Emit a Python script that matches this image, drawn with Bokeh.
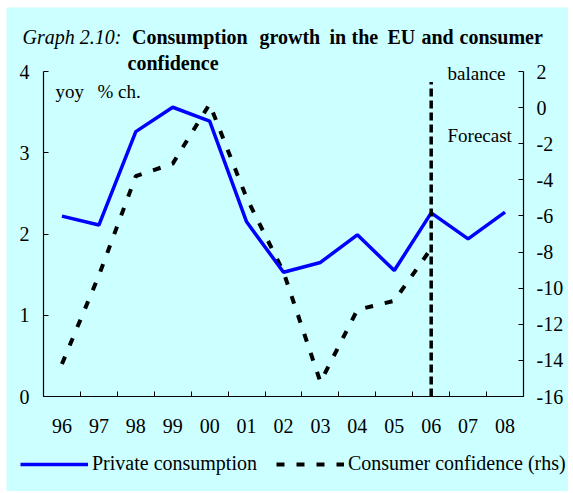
from bokeh.plotting import figure
from bokeh.models import (Range1d, LinearAxis, FixedTicker, Label, Legend, LegendItem)
from bokeh.embed import file_html
from bokeh.resources import INLINE

# ---- data ----
years = ["96", "97", "98", "99", "00", "01", "02", "03", "04", "05", "06", "07", "08"]
private_consumption = [2.22, 2.11, 3.26, 3.56, 3.39, 2.15, 1.53, 1.65, 1.99, 1.55, 2.26, 1.94, 2.27]
confidence_years = ["96", "97", "98", "99", "00", "01", "02", "03", "04", "05", "06"]
consumer_confidence = [-14.2, -9.3, -3.8, -3.1, 0.2, -5.0, -9.1, -15.2, -11.2, -10.7, -7.8]
forecast_year = "06"
forecast_line_top = 3.87
left_ticks = [0, 1, 2, 3, 4]
right_ticks = [-16, -14, -12, -10, -8, -6, -4, -2, 0, 2]

BG = "#ccffff"
FONT = "Liberation Serif"

# ---- layout geometry (pixels) ----
OX, OY = 6, 7            # page offset of the figure
W, H = 562, 484          # figure size; the frame covers the whole figure
AX_L, AX_R = 37, 517     # x of left / right axis inside the figure
AX_T, AX_B = 64, 389     # y of top tick / bottom axis inside the figure
n = len(years)
ppx = (AX_R - AX_L) / n
ppy = (AX_B - AX_T) / (left_ticks[-1] - left_ticks[0])
ppr = (AX_B - AX_T) / (right_ticks[-1] - right_ticks[0])

x_rng = Range1d(-0.5 - AX_L / ppx, n - 0.5 + (W - AX_R) / ppx)
y_rng = Range1d(left_ticks[0] - (H - AX_B) / ppy, left_ticks[-1] + AX_T / ppy)
r_rng = Range1d(right_ticks[0] - (H - AX_B) / ppr, right_ticks[-1] + AX_T / ppr)

p = figure(width=W, height=H, output_backend="svg", toolbar_location=None,
           x_range=x_rng, y_range=y_rng, x_axis_type=None, y_axis_type=None,
           min_border=0, background_fill_color=BG, border_fill_color=BG,
           outline_line_color=None)
p.styles = {"margin-left": f"{OX}px", "margin-top": f"{OY}px"}
p.xgrid.visible = False
p.ygrid.visible = False
p.extra_y_ranges = {"rhs": r_rng}

xpos = list(range(n))
cx = [years.index(y) for y in confidence_years]

def style_axis(ax):
    ax.axis_line_color = "black"
    ax.axis_line_width = 1.2
    ax.major_label_text_font = FONT
    ax.major_label_text_font_size = "20px"
    ax.major_label_text_color = "black"
    ax.major_tick_line_color = "black"
    ax.minor_tick_line_color = None
    ax.major_tick_in = 5
    ax.major_tick_out = 0

# bottom axis: labels at category centres, ticks at category boundaries
xa = LinearAxis(fixed_location=left_ticks[0], bounds=(-0.5, n - 0.5),
                ticker=FixedTicker(ticks=xpos, minor_ticks=[i - 0.5 for i in range(n + 1)]))
style_axis(xa)
xa.major_label_overrides = {i: y for i, y in enumerate(years)}
xa.major_tick_line_color = None
xa.major_tick_in = 0
xa.minor_tick_in = 5
xa.minor_tick_out = 0
xa.minor_tick_line_color = "black"
xa.major_label_standoff = 22
p.add_layout(xa, "below")

ya = LinearAxis(fixed_location=-0.5, bounds=(left_ticks[0], left_ticks[-1]),
                ticker=FixedTicker(ticks=left_ticks))
style_axis(ya)
ya.major_label_standoff = 14
p.add_layout(ya, "left")

ra = LinearAxis(y_range_name="rhs", fixed_location=n - 0.5,
                bounds=(right_ticks[0], right_ticks[-1]), ticker=FixedTicker(ticks=right_ticks))
style_axis(ra)
ra.major_label_overrides = {t: str(t) for t in right_ticks}
ra.major_label_standoff = 13
p.add_layout(ra, "right")

# data lines
conf = p.line(cx, consumer_confidence, y_range_name="rhs", line_color="black",
              line_width=4, line_dash="8 12")
pc = p.line(xpos, private_consumption, line_color="#0000ff", line_width=3.5)

fx = years.index(forecast_year)
p.segment(x0=[fx], y0=[left_ticks[0]], x1=[fx], y1=[forecast_line_top], line_color="black",
          line_width=3.5, line_dash="8 4")

# annotations placed at reference page positions
def dx(X):
    return (X - OX - AX_L) / ppx - 0.5
def dy(Y):
    return (OY + AX_B - Y) / ppy

def lab(text, X, Y, size="19px", style="normal"):
    p.add_layout(Label(x=dx(X), y=dy(Y), text=text, text_font=FONT, text_font_size=size,
                       text_font_style=style, text_color="black",
                       text_baseline="alphabetic", text_align="left"))

lab("Graph 2.10:", 22, 36, size="20px", style="italic")
for word, X in [("Consumption", 131.5), ("growth", 259), ("in", 329), ("the", 351),
                ("EU", 387), ("and", 421), ("consumer", 459)]:
    lab(word, X, 36, size="20px", style="bold")
lab("confidence", 127, 62.5, size="20px", style="bold")
lab("yoy", 55, 91)
lab("% ch.", 97, 91)
lab("balance", 447, 73)
lab("Forecast", 447, 135)

legend = Legend(items=[LegendItem(label="Private consumption", renderers=[pc]),
                       LegendItem(label="Consumer confidence (rhs)", renderers=[conf])],
                orientation="horizontal", location=(20 - OX, H - (465 - OY) - 10),
                glyph_width=68, glyph_height=20, label_standoff=4, spacing=19,
                padding=0, margin=0, border_line_color=None, background_fill_alpha=0,
                label_text_font=FONT, label_text_font_size="20px",
                label_text_color="black")
p.add_layout(legend)

open("out.html", "w").write(file_html(p, INLINE))
